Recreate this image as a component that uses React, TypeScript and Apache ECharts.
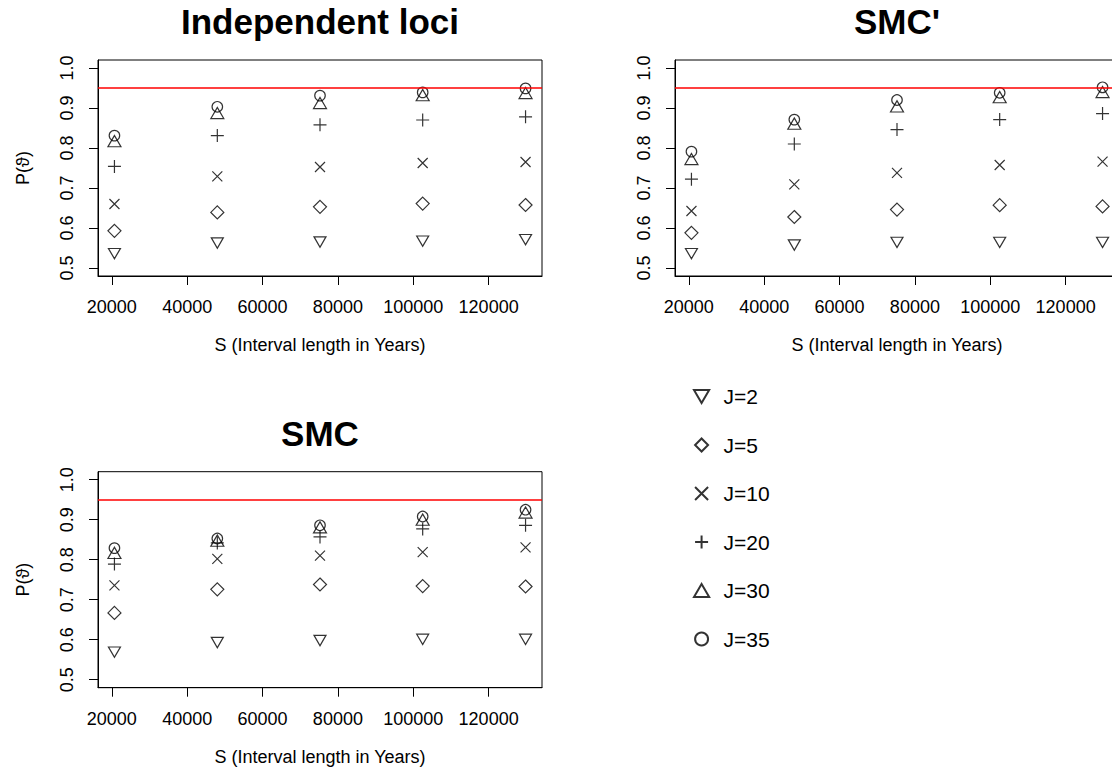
import React, { useEffect, useRef } from "react";
import * as echarts from "echarts";

// S (interval length in years) for the five simulated settings
const xValues = [20700, 48000, 75250, 102500, 129800];
const xTicks = [20000, 40000, 60000, 80000, 100000, 120000];
const yTicks = [0.5, 0.6, 0.7, 0.8, 0.9, 1.0];
const yRangeData = [0.5, 1.0];
const targetLevel = 0.95;

const seriesNames = ["J=2", "J=5", "J=10", "J=20", "J=30", "J=35"];
const panelTitles = ["Independent loci", "SMC'", "SMC"];
const yAxisNames = ["P(ϑ)", "", "P(ϑ)"];

// rows follow seriesNames
const indepLoci = [
  [0.536, 0.5625, 0.565, 0.567, 0.571],
  [0.593, 0.639, 0.653, 0.661, 0.6575],
  [0.66, 0.729, 0.7525, 0.7625, 0.765],
  [0.754, 0.831, 0.858, 0.87, 0.878],
  [0.817, 0.8875, 0.9125, 0.932, 0.9375],
  [0.831, 0.903, 0.931, 0.939, 0.949],
];
const smcPrime = [
  [0.536, 0.5575, 0.564, 0.564, 0.564],
  [0.588, 0.6275, 0.646, 0.657, 0.654],
  [0.6425, 0.709, 0.738, 0.7575, 0.766],
  [0.722, 0.81, 0.846, 0.871, 0.886],
  [0.7725, 0.861, 0.904, 0.927, 0.94],
  [0.791, 0.871, 0.92, 0.938, 0.9517],
];
const smc = [
  [0.569, 0.593, 0.598, 0.601, 0.601],
  [0.667, 0.726, 0.738, 0.734, 0.733],
  [0.736, 0.802, 0.81, 0.819, 0.831],
  [0.789, 0.842, 0.857, 0.877, 0.886],
  [0.817, 0.8475, 0.881, 0.9, 0.918],
  [0.829, 0.853, 0.886, 0.908, 0.925],
];

const panelData = [indepLoci, smcPrime, smc];

const symbols = [
  "path://M0,0 L14,0 L7,12 Z",
  "path://M7,0 L14,7 L7,14 L0,7 Z",
  "path://M0,0 L10,10 M10,0 L0,10",
  "path://M6,0 L6,12 M0,6 L12,6",
  "path://M7,0 L14,12 L0,12 Z",
  "circle",
];
const symbolSizes: any[] = [[12, 10.3], [13, 13], [10, 10], [13, 13], [13, 11.2], 10.5];

const FONT = "'Liberation Sans', Arial, Helvetica, sans-serif";

// panel grids (left, top)
const grids = [
  { left: 98, top: 60 },
  { left: 675, top: 60 },
  { left: 98, top: 471.7 },
];
const GW = 444;
const GH = 216;

function ext(min: number, max: number) {
  const r = max - min;
  return [min - 0.04 * r, max + 0.04 * r];
}

export default function App() {
  const ref = useRef<HTMLDivElement>(null);
  useEffect(() => {
    if (!ref.current) return;
    const chart = echarts.init(ref.current, undefined, { renderer: "svg" });
    const [xMin, xMax] = ext(Math.min(...xValues), Math.max(...xValues));
    const [yMin, yMax] = ext(yRangeData[0], yRangeData[1]);

    const series: any[] = [];
    panelData.forEach((rows, p) => {
      rows.forEach((vals, s) => {
        series.push({
          type: "scatter",
          name: seriesNames[s],
          xAxisIndex: p,
          yAxisIndex: p,
          symbol: symbols[s],
          symbolSize: symbolSizes[s],
          itemStyle: { color: "rgba(0,0,0,0)", borderColor: "#000", borderWidth: 1.2 },
          emphasis: { disabled: true },
          data: vals.map((v, i) => [xValues[i], v]),
          z: 3,
        });
      });
      series.push({
        type: "line",
        xAxisIndex: p,
        yAxisIndex: p,
        data: [],
        silent: true,
        markLine: {
          silent: true,
          symbol: "none",
          label: { show: false },
          lineStyle: { color: "#ff0000", width: 1.6, type: "solid" },
          emphasis: { disabled: true },
          data: [{ yAxis: targetLevel }],
        },
      });
    });

    chart.setOption({
      animation: false,
      textStyle: { fontFamily: FONT },
      title: panelTitles.map((t, i) => ({
        text: t,
        left: grids[i].left + GW / 2,
        top: grids[i].top - 56,
        textAlign: "center",
        padding: 0,
        textStyle: { fontSize: 35, fontWeight: "bold", color: "#000", fontFamily: FONT },
      })),
      legend: {
        data: seriesNames,
        orient: "vertical",
        left: 688,
        top: 381,
        itemWidth: 34,
        itemHeight: 13,
        itemGap: 27.5,
        selectedMode: false,
        textStyle: { fontSize: 21, color: "#000", fontFamily: FONT },
      },
      grid: grids.map((g) => ({
        left: g.left,
        top: g.top,
        width: GW,
        height: GH,
        show: true,
        borderColor: "#000",
        borderWidth: 1,
        backgroundColor: "transparent",
        containLabel: false,
        outerBoundsMode: "none",
      })),
      xAxis: grids.map((_, i) => ({
        type: "value",
        gridIndex: i,
        min: xMin,
        max: xMax,
        name: "S (Interval length in Years)",
        nameLocation: "middle",
        nameGap: 60,
        nameTextStyle: { fontSize: 18, color: "#000", fontFamily: FONT },
        axisLine: { show: true, lineStyle: { color: "#000", width: 1 } },
        axisTick: { show: true, length: 9, customValues: xTicks, lineStyle: { color: "#000" } },
        axisLabel: {
          customValues: xTicks,
          fontSize: 18,
          color: "#000",
          margin: 22,
          fontFamily: FONT,
          formatter: (v: number) => String(v),
        },
        splitLine: { show: false },
      })),
      yAxis: grids.map((_, i) => ({
        type: "value",
        gridIndex: i,
        min: yMin,
        max: yMax,
        name: yAxisNames[i],
        nameLocation: "middle",
        nameRotate: 90,
        nameGap: 66,
        nameTextStyle: { fontSize: 18, color: "#000", fontFamily: FONT },
        axisLine: { show: true, lineStyle: { color: "#000", width: 1 } },
        axisTick: { show: true, length: 9, customValues: yTicks, lineStyle: { color: "#000" } },
        axisLabel: {
          customValues: yTicks,
          rotate: 90,
          fontSize: 18,
          color: "#000",
          margin: 22,
          fontFamily: FONT,
          formatter: (v: number) => v.toFixed(1),
        },
        splitLine: { show: false },
      })),
      series,
    });
    return () => chart.dispose();
  }, []);
  return (
    <div
      ref={ref}
      style={{ position: "absolute", left: 0, top: 0, width: 1112, height: 778, background: "#fff" }}
    />
  );
}
